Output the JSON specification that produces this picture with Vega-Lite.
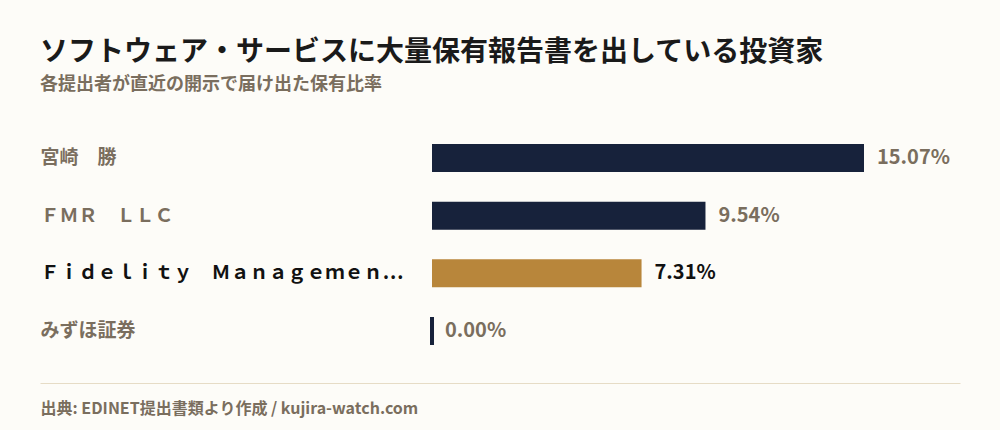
{
  "$schema": "https://vega.github.io/schema/vega-lite/v6.json",
  "width": 920,
  "height": 277,
  "autosize": {"type": "none"},
  "padding": {"left": 40, "top": 106, "right": 40, "bottom": 47},
  "background": "#fdfcf8",
  "config": {"view": {"stroke": null}, "font": "Noto Sans CJK JP"},
  "title": {
    "text": "ソフトウェア・サービスに大量保有報告書を出している投資家",
    "subtitle": "各提出者が直近の開示で届け出た保有比率",
    "anchor": "start",
    "frame": "group",
    "font": "Noto Sans CJK JP",
    "fontSize": 28,
    "fontWeight": "bold",
    "color": "#1a1a1a",
    "subtitleFont": "Noto Sans CJK JP",
    "subtitleFontSize": 18,
    "subtitleFontWeight": "bold",
    "subtitleColor": "#7a6e5e",
    "subtitlePadding": 9,
    "offset": 12
  },
  "data": {
    "values": [
      {"name": "宮崎　勝", "value": 15.07},
      {"name": "ＦＭＲ　ＬＬＣ", "value": 9.54},
      {"name": "Ｆｉｄｅｌｉｔｙ　Ｍａｎａｇｅｍｅｎ…", "value": 7.31},
      {"name": "みずほ証券", "value": 0.0}
    ]
  },
  "transform": [
    {"calculate": "format(datum.value, '.2f') + '%'", "as": "label"}
  ],
  "encoding": {
    "y": {
      "field": "name",
      "type": "nominal",
      "sort": null,
      "scale": {"paddingInner": 0.514, "paddingOuter": 0.659},
      "axis": {
        "title": null,
        "domain": false,
        "ticks": false,
        "labelAlign": "left",
        "labelPadding": 0,
        "labelBaseline": "middle",
        "labelFont": "Noto Sans CJK JP",
        "labelFontSize": 19,
        "labelLimit": 0,
        "labelColor": {"condition": {"test": "datum.value === 'Ｆｉｄｅｌｉｔｙ　Ｍａｎａｇｅｍｅｎ…'", "value": "#111111"}, "value": "#7a6e5e"},
        "labelFontWeight": {"condition": {"test": "datum.value === 'Ｆｉｄｅｌｉｔｙ　Ｍａｎａｇｅｍｅｎ…'", "value": "bold"}, "value": 600}
      }
    }
  },
  "layer": [
    {
      "mark": {"type": "bar"},
      "encoding": {
        "x": {
          "field": "value",
          "type": "quantitative",
          "scale": {"domain": [-13.675, 18.419], "nice": false},
          "axis": {
            "domain": true,
            "domainColor": "#e6dcc6",
            "domainWidth": 1,
            "ticks": false,
            "labels": false,
            "grid": false,
            "title": "出典: EDINET提出書類より作成 / kujira-watch.com",
            "titleFont": "Noto Sans CJK JP",
            "titleFontSize": 16,
            "titleFontWeight": "bold",
            "titleColor": "#7a6e5e",
            "titleAnchor": "start",
            "titleAlign": "left",
            "titleX": 0,
            "titleY": 25,
            "titleBaseline": "middle"
          }
        },
        "color": {"condition": {"test": "datum.name === 'Ｆｉｄｅｌｉｔｙ　Ｍａｎａｇｅｍｅｎ…'", "value": "#b8863b"}, "value": "#17223b"},
        "stroke": {"condition": {"test": "datum.value === 0", "value": "#17223b"}, "value": null},
        "strokeWidth": {"condition": {"test": "datum.value === 0", "value": 4}, "value": 0}
      }
    },
    {
      "transform": [{"filter": "datum.name !== 'Ｆｉｄｅｌｉｔｙ　Ｍａｎａｇｅｍｅｎ…'"}],
      "mark": {"type": "text", "align": "left", "baseline": "middle", "dx": 13, "font": "Noto Sans CJK JP", "fontSize": 20, "fontWeight": 600, "color": "#7a6e5e"},
      "encoding": {
        "x": {"field": "value", "type": "quantitative"},
        "text": {"field": "label"}
      }
    },
    {
      "transform": [{"filter": "datum.name === 'Ｆｉｄｅｌｉｔｙ　Ｍａｎａｇｅｍｅｎ…'"}],
      "mark": {"type": "text", "align": "left", "baseline": "middle", "dx": 13, "font": "Noto Sans CJK JP", "fontSize": 20, "fontWeight": "bold", "color": "#111111"},
      "encoding": {
        "x": {"field": "value", "type": "quantitative"},
        "text": {"field": "label"}
      }
    }
  ]
}
